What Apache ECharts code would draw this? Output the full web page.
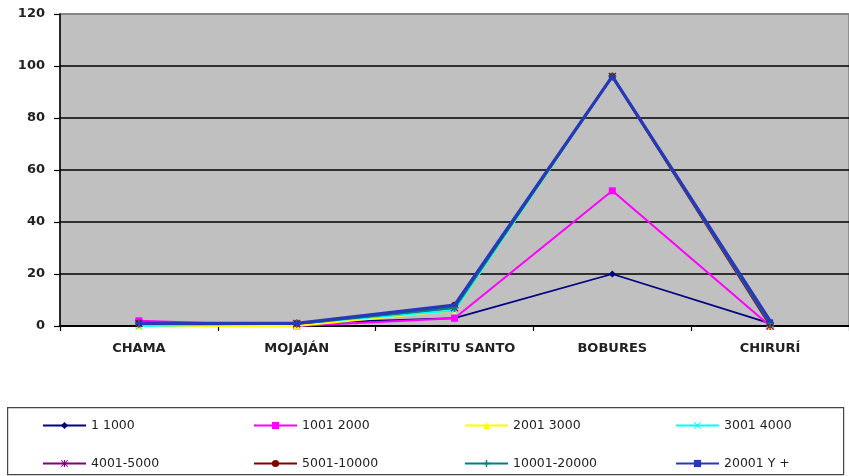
<!DOCTYPE html>
<html><head><meta charset="utf-8">
<script src="https://cdn.jsdelivr.net/npm/echarts@6/dist/echarts.min.js"></script>
<style>html,body{margin:0;padding:0;background:#fff}#c{width:849px;height:476px}</style>
</head><body><div id="c"></div>
<script>
var categories = ['CHAMA', 'MOJAJÁN', 'ESPÍRITU SANTO', 'BOBURES', 'CHIRURÍ'];
var yTicks = [0, 20, 40, 60, 80, 100, 120];
var s1_1000      = [1, 1, 3, 20, 1];
var s1001_2000   = [2, 0, 3, 52, 0];
var s2001_3000   = [0, 0, 6, 96, 0];
var s3001_4000   = [0, 1, 6, 96, 1];
var s4001_5000   = [1, 1, 7, 96, 0];
var s5001_10000  = [1, 1, 8, 96, 1];
var s10001_20000 = [1, 1, 7, 96, 1];
var s20001       = [1, 1, 8, 96, 2];
var seriesNames = ['1 1000', '1001 2000', '2001 3000', '3001 4000', '4001-5000', '5001-10000', '10001-20000', '20001 Y +'];

var X = 'path://M1,0L5,4L9,0L10,1L6,5L10,9L9,10L5,6L1,10L0,9L4,5L0,1Z';
var STAR = 'path://M1,0L5,4L9,0L10,1L6,5L10,9L9,10L5,6L1,10L0,9L4,5L0,1Z M4.3,0H5.7V10H4.3Z';
var PLUS = 'path://M4,0H6V4H10V6H6V10H4V6H0V4H4Z';

function mk(name, data, color, symbol, size, width, z) {
  return {
    name: name, type: 'line', data: data, symbol: symbol, symbolSize: size,
    showSymbol: true, z: z,
    lineStyle: { color: color, width: width },
    itemStyle: { color: color, borderWidth: 0 },
    emphasis: { disabled: true },
    animation: false
  };
}

var legends = seriesNames.map(function (n, i) {
  return {
    left: 42 + (i % 4) * 211, top: i < 4 ? 419 : 457,
    itemWidth: 43, itemHeight: 9, padding: 0, data: [n],
    textStyle: { fontFamily: 'DejaVu Sans', fontSize: 12.5, color: '#222' },
    selectedMode: false
  };
});

var chart = echarts.init(document.getElementById('c'));
chart.setOption({
  backgroundColor: '#fff',
  animation: false,
  graphic: [{
    type: 'rect', left: 7, top: 407, z: -1,
    shape: { width: 836, height: 67 },
    style: { fill: '#fff', stroke: '#444', lineWidth: 1.2 }
  }],
  legend: legends,
  grid: {
    left: 60, right: -1, top: 14, bottom: 150, show: true,
    backgroundColor: '#C0C0C0', borderColor: '#808080', borderWidth: 1.5
  },
  xAxis: {
    type: 'category', data: categories, boundaryGap: true,
    axisLine: { lineStyle: { color: '#000', width: 2 } },
    axisTick: { show: true, interval: 0, length: 5, lineStyle: { color: '#000', width: 1.2 } },
    axisLabel: { interval: 0, margin: 16, fontFamily: 'DejaVu Sans', fontWeight: 'bold', fontSize: 13, color: '#222' }
  },
  yAxis: {
    type: 'value', min: yTicks[0], max: yTicks[yTicks.length - 1], interval: 20,
    axisLine: { show: true, lineStyle: { color: '#000', width: 1.5 } },
    axisTick: { show: true, length: 6, lineStyle: { color: '#000', width: 1.2 } },
    axisLabel: { margin: 15, fontFamily: 'DejaVu Sans', fontWeight: 'bold', fontSize: 13, color: '#222' },
    splitLine: { show: true, lineStyle: { color: ['#000', '#000', '#000', '#000', '#000', '#000', '#808080'], width: 1.5 } }
  },
  series: [
    mk(seriesNames[0], s1_1000, '#000080', 'diamond', 7, 1.8, 10),
    mk(seriesNames[1], s1001_2000, '#FF00FF', 'rect', 7, 2, 11),
    mk(seriesNames[2], s2001_3000, '#FFFF00', 'triangle', 7, 2, 12),
    mk(seriesNames[3], s3001_4000, '#00FFFF', X, 7, 2, 13),
    mk(seriesNames[4], s4001_5000, '#800080', STAR, 8, 2, 14),
    mk(seriesNames[5], s5001_10000, '#800000', 'circle', 7, 2, 15),
    mk(seriesNames[6], s10001_20000, '#008080', PLUS, 8, 2.5, 16),
    mk(seriesNames[7], s20001, '#2838B8', 'rect', [6, 3], 3.2, 17)
  ]
});
</script></body></html>
